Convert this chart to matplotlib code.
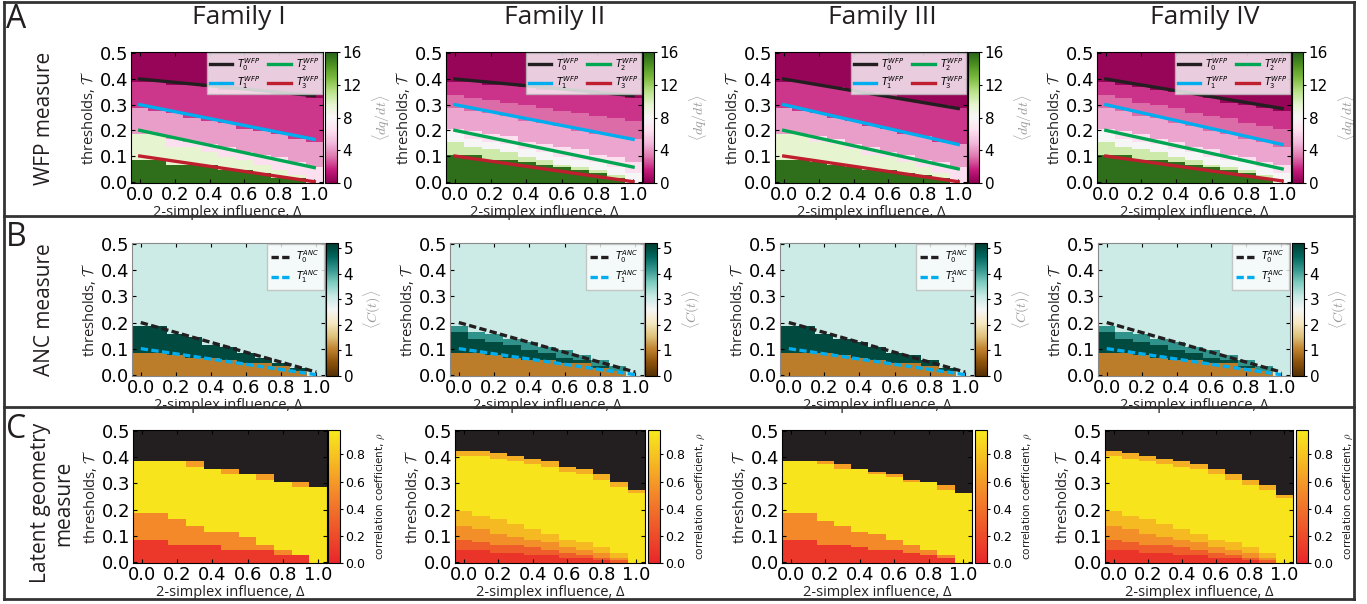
import numpy as np
import matplotlib.pyplot as plt
from matplotlib.colors import LinearSegmentedColormap
from matplotlib.lines import Line2D

TICK_FONT = ['Liberation Sans Narrow', 'DejaVu Sans']
LABEL_FONT = ['Open Sans', 'DejaVu Sans']

W, H = 1367, 604

DELTA = [0.0, 0.1, 0.2, 0.3, 0.4, 0.5, 0.6, 0.7, 0.8, 0.9, 1.0]
T_GRID = np.arange(51) / 100.0
FAMILIES = ['Family I', 'Family II', 'Family III', 'Family IV']

# threshold lines, (value at Δ=0, value at Δ=1) for each family
WFP_T0 = [(0.40, 0.335), (0.40, 0.335), (0.40, 0.285), (0.40, 0.285)]
WFP_T1 = [(0.30, 0.165), (0.30, 0.165), (0.30, 0.145), (0.30, 0.145)]
WFP_T2 = [(0.20, 0.055), (0.20, 0.057), (0.20, 0.050), (0.20, 0.050)]
WFP_T3 = [(0.10, 0.000), (0.10, 0.000), (0.10, 0.000), (0.10, 0.003)]
ANC_T0 = [(0.20, 0.010)] * 4
ANC_T1 = [(0.10, 0.000)] * 4

# <dq/dt> bands: highest threshold of each band per Δ column (bottom band first)
WFP_LEVELS_A = [15.6, 9.6, 6.4, 4.2, 2.1]
WFP_TOP = 0.3
WFP_I = [
    [.08, .08, .06, .06, .06, .04, .04, .03, .01, .01, -1],
    [.18, .18, .13, .13, .11, .09, .08, .06, .04, .02, -1],
    [.18, .18, .16, .15, .14, .13, .11, .10, .09, .07, .05],
    [.28, .27, .26, .24, .23, .22, .20, .19, .18, .16, .15],
    [.38, .38, .37, .37, .36, .35, .35, .34, .33, .33, .32],
]
WFP_III = [
    [.08, .08, .07, .06, .05, .04, .04, .03, .02, .01, -1],
    [.18, .18, .15, .14, .12, .10, .09, .07, .05, .03, -1],
    [.18, .18, .17, .16, .14, .13, .11, .10, .08, .07, .05],
    [.28, .27, .26, .24, .23, .21, .20, .18, .17, .15, .14],
    [.38, .38, .37, .36, .35, .34, .33, .31, .30, .29, .28],
]
WFP_LEVELS_B = [15.6, 10.4, 8.0, 6.4, 4.4, 3.0, 2.0]
WFP_II = [
    [.10, .10, .08, .08, .07, .06, .05, .04, .03, .01, -1],
    [.15, .13, .12, .11, .09, .08, .06, .05, .04, .02, -1],
    [.19, .16, .15, .14, .12, .11, .09, .08, .07, .05, .03],
    [.20, .19, .18, .17, .15, .14, .13, .12, .10, .09, .07],
    [.28, .27, .26, .25, .23, .22, .21, .19, .18, .17, .16],
    [.33, .32, .31, .30, .29, .28, .27, .26, .25, .24, .23],
    [.38, .38, .37, .37, .36, .35, .35, .34, .33, .33, .32],
]
WFP_IV = [
    [.10, .10, .08, .08, .07, .06, .05, .04, .03, .01, -1],
    [.15, .13, .12, .11, .09, .08, .06, .05, .04, .02, -1],
    [.19, .16, .15, .14, .12, .11, .09, .08, .07, .05, .03],
    [.20, .19, .18, .16, .15, .13, .12, .10, .09, .07, .06],
    [.28, .27, .25, .24, .22, .21, .19, .18, .16, .15, .13],
    [.33, .32, .30, .29, .28, .26, .25, .24, .22, .21, .20],
    [.38, .37, .36, .35, .34, .33, .32, .30, .29, .28, .27],
]

# <C(t)> bands
ANC_LEVELS_A = [1.0, 5.0]
ANC_LEVELS_B = [1.0, 5.0, 4.2]
ANC_TOP = 3.05
ANC_I = [
    [.08, .08, .07, .06, .06, .05, .04, .04, .03, .01, -1],
    [.18, .18, .15, .14, .11, .10, .08, .06, .04, .02, -1],
]
ANC_II = [
    [.08, .08, .07, .06, .05, .05, .04, .04, .02, .01, -1],
    [.16, .13, .12, .11, .09, .08, .06, .05, .03, .01, -1],
    [.18, .16, .15, .13, .12, .10, .09, .07, .05, .03, -1],
]
ANC_III = [
    [.08, .08, .08, .07, .06, .05, .04, .04, .03, .01, -1],
    [.18, .18, .15, .13, .12, .10, .08, .07, .05, .02, -1],
]
ANC_IV = [
    [.08, .08, .07, .06, .05, .05, .04, .04, .02, .01, -1],
    [.16, .13, .12, .11, .09, .08, .06, .05, .03, .01, -1],
    [.18, .16, .15, .13, .12, .10, .09, .07, .05, .03, -1],
]

# correlation coefficient bands, cells above the last band are undefined
RHO_LEVELS_A = [0.10, 0.52, 0.95, 0.62]
RHO_I = [
    [.08, .08, .06, .06, .06, .04, .04, .04, .02, .02, -1],
    [.18, .18, .16, .13, .11, .11, .09, .06, .04, .02, -1],
    [.38, .38, .38, .36, .35, .33, .33, .31, .30, .28, .28],
    [.38, .38, .38, .38, .35, .35, .33, .33, .30, .30, .28],
]
RHO_III = [
    [.08, .08, .06, .06, .05, .04, .04, .03, .02, .01, -1],
    [.18, .18, .15, .13, .11, .10, .08, .06, .04, .02, -1],
    [.38, .38, .37, .35, .35, .33, .32, .30, .30, .27, .26],
    [.38, .38, .38, .37, .35, .34, .33, .31, .30, .29, .26],
]
RHO_LEVELS_B = [0.08, 0.30, 0.55, 0.75, 0.95, 0.70]
RHO_II = [
    [.04, .04, .03, .03, .02, .02, .01, .01, .00, -1, -1],
    [.08, .07, .06, .06, .05, .04, .03, .02, .01, .00, -1],
    [.13, .12, .10, .09, .08, .07, .05, .04, .03, .01, -1],
    [.19, .17, .16, .14, .12, .10, .08, .07, .05, .03, -1],
    [.40, .40, .39, .38, .37, .36, .34, .33, .31, .28, .26],
    [.42, .42, .41, .40, .39, .38, .36, .35, .33, .30, .27],
]
RHO_IV = [
    [.04, .04, .03, .03, .02, .02, .01, .01, .00, -1, -1],
    [.08, .07, .06, .06, .05, .04, .03, .02, .01, .00, -1],
    [.13, .12, .10, .09, .08, .07, .05, .04, .03, .01, -1],
    [.19, .17, .16, .14, .12, .10, .08, .07, .05, .03, -1],
    [.40, .39, .38, .37, .36, .35, .33, .31, .29, .27, .24],
    [.42, .41, .40, .39, .38, .37, .35, .33, .31, .29, .25],
]

ROW_TITLES = ['WFP measure', 'ANC measure', 'Latent geometry\nmeasure']
ROW_LETTERS = ['A', 'B', 'C']

# panel boxes in pixels: (left, top, right, bottom) and colorbar (left, right)
AX_A = [(131, 52, 323, 183), (446, 52, 642, 183), (775, 52, 967, 183), (1097, 52, 1291, 183)]
CB_A = [(325, 337), (643, 654), (968, 979), (1292, 1303)]
AX_B = [(132, 243, 325, 376), (450, 243, 644, 376), (780, 243, 974, 376), (1098, 243, 1290, 376)]
CB_B = [(326, 338), (645, 657), (975, 987), (1292, 1304)]
AX_C = [(133, 430, 327, 563), (455, 430, 645, 563), (782, 430, 972, 563), (1105, 430, 1293, 563)]
CB_C = [(328, 340), (648, 660), (975, 987), (1296, 1308)]


def rect(l, t, r, b):
    return [l / W, 1 - b / H, (r - l) / W, (b - t) / H]


def band_image(levels, tops, fill):
    z = np.full((T_GRID.size, len(DELTA)), fill, dtype=float)
    for lev, top in zip(levels[::-1], tops[::-1]):
        z[T_GRID[:, None] <= np.asarray(top)[None, :] + 1e-9] = lev
    return z


def style_axes(ax):
    ax.set_xlim(-0.05, 1.05)
    ax.set_ylim(-0.005, 0.505)
    ax.set_xticks([0.0, 0.2, 0.4, 0.6, 0.8, 1.0])
    ax.set_yticks([0.0, 0.1, 0.2, 0.3, 0.4, 0.5])
    ax.set_xticklabels(['0.0', '0.2', '0.4', '0.6', '0.8', '1.0'])
    ax.set_yticklabels(['0.0', '0.1', '0.2', '0.3', '0.4', '0.5'])
    ax.tick_params(direction='in', length=3, labelsize=13, pad=2,
                   top=True, right=True)
    for lab in ax.get_xticklabels() + ax.get_yticklabels():
        lab.set_family(TICK_FONT)
    ax.set_xlabel('2-simplex influence, Δ', family=LABEL_FONT, fontsize=10.5,
                  labelpad=1, color='#231f20')
    ax.set_ylabel(r'thresholds, $\mathcal{T}$', family=LABEL_FONT, fontsize=10.5,
                  labelpad=2, color='#231f20', math_fontfamily='cm')


def add_cbar(im, box, cb, ticks, label, lsize, tsize, lcolor):
    l, t, r, b = box
    cax = fig.add_axes(rect(cb[0], t, cb[1], b))
    bar = fig.colorbar(im, cax=cax, ticks=ticks)
    bar.ax.tick_params(labelsize=tsize, length=2, pad=2)
    for lab in bar.ax.get_yticklabels():
        lab.set_family(TICK_FONT)
    bar.set_label(label, fontsize=lsize, color=lcolor, labelpad=6,
                  math_fontfamily='cm')
    bar.outline.set_linewidth(0.8)
    return bar


fig = plt.figure(figsize=(W / 100, H / 100), dpi=100)

wfp_cmap = plt.get_cmap('PiYG')
anc_cmap = plt.get_cmap('BrBG')
rho_cmap = LinearSegmentedColormap.from_list('rho', ['#e9262a', '#f3832a', '#f8ea1c'])
rho_cmap.set_bad('#231f20')

wfp_data = [(WFP_LEVELS_A, WFP_I), (WFP_LEVELS_B, WFP_II),
            (WFP_LEVELS_A, WFP_III), (WFP_LEVELS_B, WFP_IV)]
anc_data = [(ANC_LEVELS_A, ANC_I), (ANC_LEVELS_B, ANC_II),
            (ANC_LEVELS_A, ANC_III), (ANC_LEVELS_B, ANC_IV)]
rho_data = [(RHO_LEVELS_A, RHO_I), (RHO_LEVELS_B, RHO_II),
            (RHO_LEVELS_A, RHO_III), (RHO_LEVELS_B, RHO_IV)]
extent = [-0.05, 1.05, -0.005, 0.505]
wfp_colors = ['#231f20', '#00aeef', '#00a651', '#be1e2d']
leg_font = {'size': 7, 'math_fontfamily': 'dejavusans'}

for k in range(4):
    # WFP row
    ax = fig.add_axes(rect(*AX_A[k]))
    levels, tops = wfp_data[k]
    z = band_image(levels, tops, WFP_TOP)
    im = ax.imshow(z, origin='lower', extent=extent, aspect='auto',
                   interpolation='nearest', cmap=wfp_cmap, vmin=0, vmax=16)
    lines = [WFP_T0[k], WFP_T1[k], WFP_T2[k], WFP_T3[k]]
    for i, (y0, y1) in enumerate(lines):
        ax.plot([0.0, 1.0], [y0, y1], color=wfp_colors[i], lw=2.4,
                label=r'$T_%d^{WFP}$' % i)
    style_axes(ax)
    ax.legend(ncol=2, loc='upper right', prop=leg_font, borderaxespad=0.1,
              handlelength=2.3, columnspacing=0.8, handletextpad=0.5,
              labelspacing=0.2, borderpad=0.3, framealpha=0.8,
              fancybox=False, edgecolor='#bbbbbb')
    add_cbar(im, AX_A[k], CB_A[k], [0, 4, 8, 12, 16],
             r'$\langle dq/dt\rangle$', 10, 11, '#999999')

    # ANC row
    ax = fig.add_axes(rect(*AX_B[k]))
    levels, tops = anc_data[k]
    z = band_image(levels, tops, ANC_TOP)
    im = ax.imshow(z, origin='lower', extent=extent, aspect='auto',
                   interpolation='nearest', cmap=anc_cmap, vmin=0, vmax=5.2)
    ax.plot([0.0, 1.0], list(ANC_T0[k]), color='#231f20', lw=2.4,
            ls=(0, (2.2, 1.0)), label=r'$T_0^{ANC}$')
    ax.plot([0.0, 1.0], list(ANC_T1[k]), color='#00aeef', lw=2.4,
            ls=(0, (2.2, 1.0)), label=r'$T_1^{ANC}$')
    style_axes(ax)
    for sp in ax.spines.values():
        sp.set_color('#888888')
    ax.legend(loc='upper right', prop=leg_font, borderaxespad=0.1,
              handlelength=2.0, handletextpad=0.6, labelspacing=0.35,
              borderpad=0.45, framealpha=0.8, fancybox=False,
              edgecolor='#bbbbbb')
    add_cbar(im, AX_B[k], CB_B[k], [0, 1, 2, 3, 4, 5],
             r'$\langle C(t)\rangle$', 10, 11, '#999999')

    # latent geometry row
    ax = fig.add_axes(rect(*AX_C[k]))
    levels, tops = rho_data[k]
    z = band_image(levels, tops, np.nan)
    im = ax.imshow(np.ma.masked_invalid(z), origin='lower', extent=extent,
                   aspect='auto', interpolation='nearest', cmap=rho_cmap,
                   vmin=0, vmax=0.98)
    style_axes(ax)
    add_cbar(im, AX_C[k], CB_C[k], [0.0, 0.2, 0.4, 0.6, 0.8],
             r'correlation coefficient, $\rho$', 7.5, 9, '#231f20')

    # column heading
    cx = (AX_A[k][0] + CB_A[k][1]) / 2 + 5
    fig.text(cx / W, 1 - 18 / H, FAMILIES[k], family=LABEL_FONT, fontsize=19,
             ha='center', va='center', color='#231f20')

# row headings and letters
row_y = [118, 310, 503]
row_x = [45, 45, 52]
letter_y = [20, 238, 430]
for r in range(3):
    fig.text(row_x[r] / W, 1 - row_y[r] / H, ROW_TITLES[r], family=LABEL_FONT,
             fontsize=15, rotation=90, ha='center', va='center',
             color='#231f20', linespacing=1.1)
    fig.text(6 / W, 1 - letter_y[r] / H, ROW_LETTERS[r], family=LABEL_FONT,
             fontsize=23, ha='left', va='center', color='#231f20')

# frames around the rows
frame = dict(transform=fig.transFigure, color='#333333', lw=2)
for y in [2, 216, 407, 599]:
    fig.add_artist(Line2D([4 / W, 1354 / W], [1 - y / H, 1 - y / H], **frame))
for x in [4, 1354]:
    fig.add_artist(Line2D([x / W, x / W], [1 - 2 / H, 1 - 599 / H], **frame))

fig.savefig('out.png', dpi=100)
